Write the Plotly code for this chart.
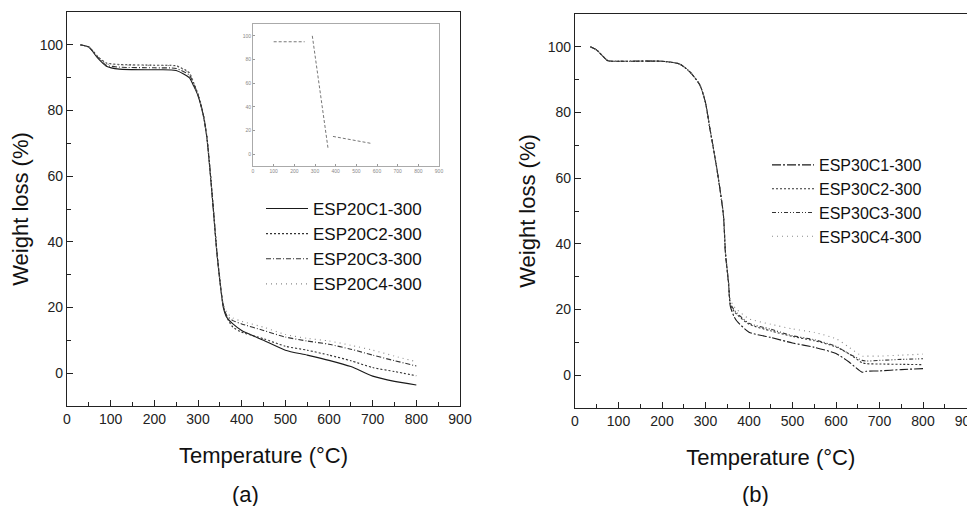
import plotly.graph_objects as go

# ---------------- data: panel (a) ----------------
temp_a = [30, 50, 70, 90, 120, 200, 250, 280, 290, 300, 312, 320, 328, 335, 343, 351, 358, 366,
          380, 400, 450, 500, 550, 600, 650, 700, 750, 800]
esp20c1 = [100, 99.3, 96, 93.5, 92.6, 92.4, 92.2, 90, 87.5, 84.5, 78.5, 72, 61, 50, 37, 27, 20, 17,
           15, 13, 10, 7, 5.5, 3.9, 2, -0.9, -2.5, -3.6]
esp20c2 = [100, 99.4, 96.5, 94.5, 94, 93.8, 93.6, 91.5, 88.5, 85, 79, 72.5, 61.5, 50.5, 37.5, 27.5, 20.5, 17,
           14, 12.5, 10.5, 8.2, 7, 5.5, 3.8, 1.7, 0.5, -0.8]
esp20c3 = [100, 99.3, 96.3, 93.8, 93.2, 93, 92.8, 90.8, 88, 84.8, 78.8, 72.2, 61.2, 50.2, 37.2, 27.2, 20.5, 17.5,
           16, 15, 13, 11, 9.8, 8.8, 7.3, 5.5, 3.8, 2.2]
esp20c4 = [100, 99.4, 96.6, 94.2, 93.9, 93.7, 93.5, 91.3, 88.2, 85, 79, 72.5, 61.5, 50.5, 37.5, 27.5, 21, 18.5,
           16.8, 15.8, 14, 11.8, 10.6, 9.8, 8.5, 7, 5.2, 3.5]
names_a = ["ESP20C1-300", "ESP20C2-300", "ESP20C3-300", "ESP20C4-300"]

# inset of panel (a) (faint, fragmentary)
inset_x = [100, 250, None, 287, 363, None, 387, 575]
inset_y = [95, 95, None, 100, 5, None, 15, 9]

# ---------------- data: panel (b) ----------------
temp_b = [35, 50, 65, 75, 100, 200, 240, 264, 287, 300, 310, 326, 341, 346, 353, 357, 365, 372,
          400, 450, 500, 550, 600, 630, 660, 670, 700, 750, 800]
esp30c1 = [100, 99, 97, 95.8, 95.6, 95.6, 94.8, 92.4, 88.4, 83, 75.2, 63, 49, 37, 28, 21, 18, 16.5,
           13.1, 11.5, 9.8, 8.5, 6.6, 4, 0.9, 1.2, 1.3, 1.7, 2]
esp30c2 = [100, 99, 97, 95.8, 95.6, 95.6, 94.8, 92.4, 88.4, 83, 75.2, 63, 49, 37, 28, 21.5, 19.5, 18.5,
           15.5, 13.5, 11.8, 10.5, 8.6, 6.5, 3.8, 3.5, 3.4, 3.3, 3.2]
esp30c3 = [100, 99, 97, 95.8, 95.6, 95.6, 94.8, 92.4, 88.4, 83, 75.2, 63, 49, 37, 28, 22, 20, 19,
           15.8, 14, 12, 10.8, 8.8, 6.5, 4.5, 4.3, 4.5, 4.8, 5]
esp30c4 = [100, 99, 97, 95.8, 95.6, 95.6, 94.8, 92.4, 88.4, 83, 75.2, 63, 49, 37.5, 29, 23, 21, 20,
           17.2, 15.5, 14.1, 13, 11.1, 8.5, 5.8, 5.8, 5.8, 6.1, 6.4]
names_b = ["ESP30C1-300", "ESP30C2-300", "ESP30C3-300", "ESP30C4-300"]

x_ticks = [0, 100, 200, 300, 400, 500, 600, 700, 800, 900]
y_ticks = [0, 20, 40, 60, 80, 100]

# figure placed inside page with 8px default body margin
W, H, OFF = 967, 498, 8
def fx(px):
    return (px - OFF) / W
def fy(py):
    return 1 - (py - OFF) / H

FONT = "Liberation Sans, Arial, sans-serif"
fig = go.Figure()

styles_a = [("#1a1a1a", "solid", 1.1), ("#333333", "2px,2px", 1.1),
            ("#333333", "5px,2px,1px,2px", 1.1), ("#8a8a8a", "1px,4px", 1.1)]
for i, (ys, nm) in enumerate(zip([esp20c1, esp20c2, esp20c3, esp20c4], names_a)):
    c, d, w = styles_a[i]
    fig.add_trace(go.Scatter(x=temp_a, y=ys, name=nm, mode="lines",
                             line=dict(color=c, dash=d, width=w, shape="spline", smoothing=0.6),
                             xaxis="x", yaxis="y", legend="legend", legendgroup=nm))

fig.add_trace(go.Scatter(x=inset_x, y=inset_y, mode="lines", showlegend=False,
                         line=dict(color="#777777", width=1, dash="3px,2px"),
                         xaxis="x3", yaxis="y3"))

styles_b = [("#1a1a1a", "9px,2px,2px,2px", 1.1), ("#333333", "2px,2px", 1.1),
            ("#333333", "4px,2px,1px,2px,1px,2px", 1.1), ("#8a8a8a", "1px,4px", 1.1)]
for i, (ys, nm) in enumerate(zip([esp30c1, esp30c2, esp30c3, esp30c4], names_b)):
    c, d, w = styles_b[i]
    fig.add_trace(go.Scatter(x=temp_b, y=ys, name=nm, mode="lines",
                             line=dict(color=c, dash=d, width=w, shape="spline", smoothing=0.6),
                             xaxis="x2", yaxis="y2", legend="legend2", legendgroup=nm))

axis_common = dict(showline=True, linecolor="#222", linewidth=1.2, mirror=True,
                   ticks="inside", ticklen=6, tickwidth=1.2, tickcolor="#222",
                   showgrid=False, zeroline=False, automargin=False,
                   tickfont=dict(family=FONT, size=14, color="#222"))

xa = dict(axis_common, range=[0, 900], tickvals=x_ticks, ticklabeloverflow="allow",
          minor=dict(ticks="inside", ticklen=4, dtick=50, tick0=0, tickcolor="#222", showgrid=False),
          title=dict(text="Temperature (°C)", font=dict(family=FONT, size=22, color="#111"), standoff=21))
ya = dict(axis_common, range=[-10, 110], tickvals=y_ticks,
          minor=dict(ticks="inside", ticklen=4, dtick=10, tick0=0, tickcolor="#222", showgrid=False),
          title=dict(text="Weight loss (%)", font=dict(family=FONT, size=22, color="#111"), standoff=6))

inset_axis = dict(showline=True, linecolor="#aaa", linewidth=1, mirror=True, ticks="inside",
                  ticklen=2, tickcolor="#999", showgrid=False, zeroline=False, automargin=False,
                  tickfont=dict(family=FONT, size=5, color="#888"))

fig.update_layout(
    width=W, height=H, margin=dict(l=0, r=0, t=0, b=0),
    paper_bgcolor="white", plot_bgcolor="white",
    font=dict(family=FONT, color="#111"),
    xaxis=dict(xa, domain=[fx(67), fx(460)], anchor="y"),
    yaxis=dict(ya, domain=[fy(406), fy(12)], anchor="x"),
    xaxis2=dict(xa, domain=[fx(575), fx(966.5)], anchor="y2"),
    yaxis2=dict(ya, domain=[fy(408), fy(14)], anchor="x2"),
    xaxis3=dict(inset_axis, domain=[fx(253), fx(439)], anchor="y3", range=[0, 900], tickvals=x_ticks),
    yaxis3=dict(inset_axis, domain=[fy(166), fy(24)], anchor="x3", range=[-10, 110], tickvals=y_ticks),
    legend=dict(x=fx(261), y=fy(191), xanchor="left", yanchor="top", bgcolor="rgba(0,0,0,0)",
                font=dict(family=FONT, size=17, color="#111"), itemwidth=42, tracegroupgap=0),
    legend2=dict(x=fx(767), y=fy(148), xanchor="left", yanchor="top", bgcolor="rgba(0,0,0,0)",
                 font=dict(family=FONT, size=16, color="#111"), itemwidth=42, tracegroupgap=0),
    annotations=[
        dict(text="(a)", x=fx(245), y=fy(494), xref="paper", yref="paper", showarrow=False,
             xanchor="center", yanchor="middle", font=dict(family=FONT, size=22, color="#111")),
        dict(text="(b)", x=fx(755), y=fy(494), xref="paper", yref="paper", showarrow=False,
             xanchor="center", yanchor="middle", font=dict(family=FONT, size=22, color="#111")),
    ],
)

fig.write_html("out.html")
